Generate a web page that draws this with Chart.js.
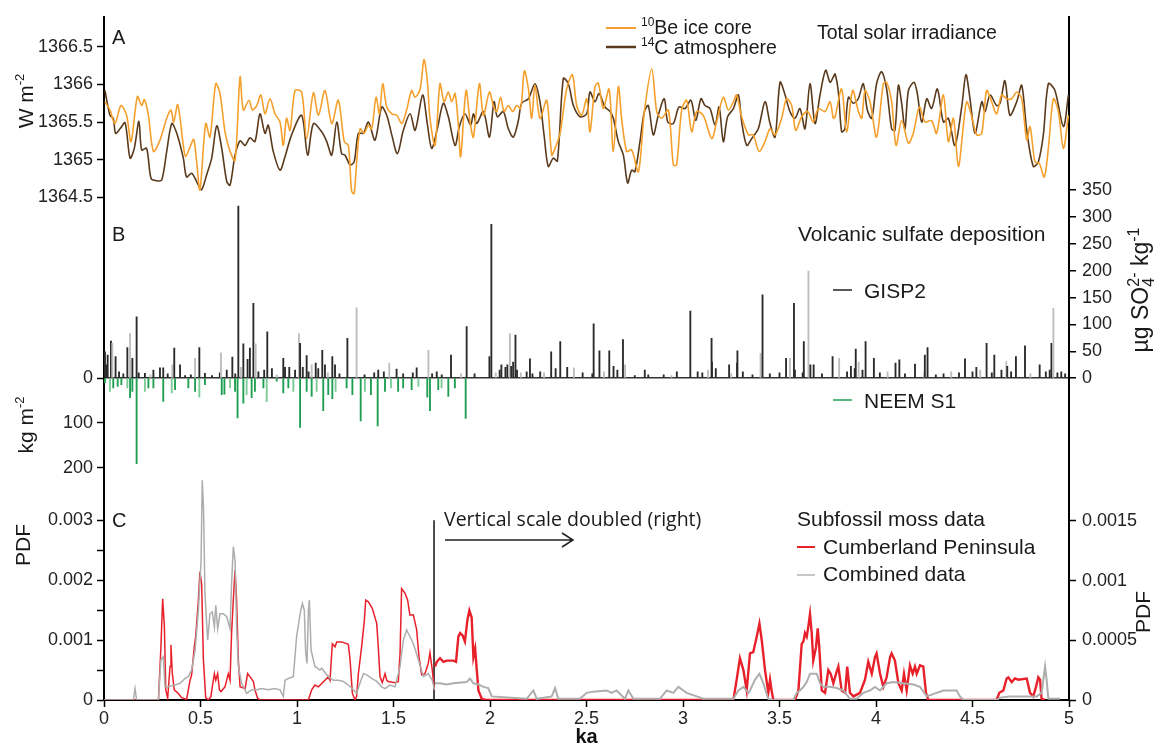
<!DOCTYPE html>
<html>
<head>
<meta charset="utf-8">
<script src="https://cdn.jsdelivr.net/npm/chart.js@4.4.1/dist/chart.umd.min.js"></script>
<style>
  html, body { margin: 0; padding: 0; background: #fff; }
  #wrap { width: 1163px; height: 749px; position: relative; }
</style>
</head>
<body>
<div id="wrap"><canvas id="holoceneChart"></canvas></div>
<script>
// ages in ka
const xTicks = [0, 0.5, 1, 1.5, 2, 2.5, 3, 3.5, 4, 4.5, 5];
const tsiTicks = [1364.5, 1365, 1365.5, 1366, 1366.5];
const neemTicks = [0, 100, 200];
const gispTicks = [0, 50, 100, 150, 200, 250, 300, 350];
const pdfTicks = [0, 0.0005, 0.001, 0.0015, 0.002, 0.0025, 0.003];
const pdfRightTicks = [0, 0.0005, 0.001, 0.0015];

// A - total solar irradiance (W m-2)
const be10 = [
  [0.005,1365.77],[0.031,1365.66],[0.057,1365.48],[0.088,1365.72],[0.117,1365.59],[0.140,1365.24],[0.173,1365.84],[0.195,1365.72],
  [0.209,1365.80],[0.230,1365.59],[0.256,1365.11],[0.290,1365.26],[0.325,1365.55],[0.347,1365.66],[0.361,1365.50],[0.382,1365.73],
  [0.411,1365.19],[0.423,1365.04],[0.446,1365.17],[0.465,1365.27],[0.480,1364.97],[0.497,1364.60],[0.527,1365.48],[0.549,1365.30],
  [0.579,1366.01],[0.601,1365.88],[0.627,1365.37],[0.653,1365.11],[0.679,1364.99],[0.705,1366.10],[0.722,1365.66],[0.751,1365.79],
  [0.769,1365.66],[0.791,1365.72],[0.813,1365.86],[0.834,1365.61],[0.860,1365.81],[0.886,1365.61],[0.912,1365.50],[0.929,1365.19],
  [0.946,1365.55],[0.964,1365.39],[0.990,1365.92],[1.024,1365.90],[1.050,1365.28],[1.085,1365.89],[1.111,1365.59],[1.145,1365.92],
  [1.180,1365.48],[1.214,1365.79],[1.245,1365.24],[1.266,1365.19],[1.283,1364.58],[1.296,1364.55],[1.309,1364.97],[1.327,1365.41],
  [1.347,1365.35],[1.370,1365.46],[1.387,1365.41],[1.410,1365.83],[1.427,1365.61],[1.444,1366.01],[1.465,1365.70],[1.491,1365.61],
  [1.517,1365.59],[1.543,1365.48],[1.568,1365.66],[1.594,1365.92],[1.612,1365.83],[1.638,1365.94],[1.658,1366.33],[1.676,1366.03],
  [1.689,1365.55],[1.715,1365.19],[1.741,1366.01],[1.762,1365.77],[1.784,1365.90],[1.802,1365.77],[1.819,1365.88],[1.836,1365.46],
  [1.848,1365.04],[1.876,1365.92],[1.897,1365.50],[1.914,1365.30],[1.945,1366.01],[1.966,1365.59],[1.997,1365.90],[2.017,1365.72],
  [2.035,1365.64],[2.055,1365.83],[2.073,1365.64],[2.095,1365.72],[2.118,1365.64],[2.138,1365.72],[2.159,1365.68],[2.178,1366.18],
  [2.199,1365.94],[2.216,1365.55],[2.233,1365.99],[2.259,1365.55],[2.294,1365.79],[2.320,1365.06],[2.337,1365.15],[2.363,1365.35],
  [2.397,1365.94],[2.427,1366.13],[2.449,1365.72],[2.475,1365.59],[2.501,1365.81],[2.518,1365.37],[2.544,1365.97],[2.561,1366.02],
  [2.587,1365.68],[2.617,1365.94],[2.639,1365.11],[2.665,1365.97],[2.682,1365.55],[2.708,1365.11],[2.734,1365.13],[2.769,1364.84],
  [2.800,1365.64],[2.838,1366.21],[2.864,1365.64],[2.889,1365.55],[2.924,1365.66],[2.950,1364.93],[2.967,1364.93],[2.993,1365.66],
  [3.019,1365.79],[3.045,1365.37],[3.071,1365.64],[3.105,1365.59],[3.149,1365.28],[3.174,1365.50],[3.209,1365.83],[3.235,1365.66],
  [3.261,1365.77],[3.278,1365.86],[3.304,1365.57],[3.339,1365.33],[3.364,1365.33],[3.394,1365.11],[3.425,1365.24],[3.451,1365.41],
  [3.477,1365.33],[3.511,1365.55],[3.537,1365.81],[3.563,1365.72],[3.584,1365.39],[3.615,1365.57],[3.646,1365.64],[3.675,1365.50],
  [3.701,1365.68],[3.736,1365.64],[3.762,1365.77],[3.779,1365.55],[3.788,1365.57],[3.822,1365.94],[3.848,1365.37],[3.879,1365.92],
  [3.909,1365.64],[3.926,1365.55],[3.943,1365.92],[3.969,1365.77],[4.003,1365.30],[4.038,1366.01],[4.055,1366.03],[4.081,1365.77],
  [4.104,1365.19],[4.133,1365.52],[4.168,1365.22],[4.193,1365.35],[4.225,1365.70],[4.254,1365.50],[4.288,1365.52],[4.314,1365.35],
  [4.349,1365.86],[4.375,1365.24],[4.401,1365.55],[4.427,1364.91],[4.453,1365.46],[4.470,1365.77],[4.496,1365.57],[4.522,1365.33],
  [4.548,1365.35],[4.573,1365.92],[4.599,1365.77],[4.625,1365.61],[4.651,1365.86],[4.677,1365.81],[4.703,1365.81],[4.729,1365.90],
  [4.755,1365.81],[4.781,1365.26],[4.798,1365.44],[4.824,1364.97],[4.846,1364.95],[4.872,1364.77],[4.893,1365.15],[4.919,1365.81],
  [4.945,1365.64],[4.971,1365.15],[4.997,1365.59]
];
const c14 = [
  [0.005,1365.92],[0.031,1365.59],[0.048,1365.55],[0.060,1365.35],[0.083,1365.41],[0.109,1365.49],[0.135,1365.02],[0.157,1365.15],
  [0.181,1365.51],[0.195,1365.13],[0.221,1365.15],[0.244,1364.75],[0.273,1364.72],[0.299,1364.73],[0.325,1365.11],[0.351,1365.48],
  [0.377,1365.35],[0.411,1365.02],[0.428,1364.77],[0.454,1364.82],[0.472,1364.75],[0.489,1364.66],[0.506,1364.60],[0.532,1364.80],
  [0.558,1365.02],[0.584,1365.45],[0.610,1365.15],[0.636,1364.71],[0.653,1364.66],[0.679,1365.06],[0.705,1365.25],[0.731,1365.19],
  [0.756,1365.29],[0.782,1365.24],[0.808,1365.61],[0.834,1365.35],[0.851,1365.46],[0.877,1365.11],[0.912,1364.86],[0.938,1365.04],
  [0.972,1365.33],[1.024,1365.59],[1.055,1365.06],[1.085,1365.48],[1.128,1365.37],[1.154,1365.24],[1.180,1365.06],[1.206,1365.50],
  [1.231,1365.08],[1.249,1365.06],[1.275,1364.93],[1.296,1364.97],[1.318,1365.35],[1.344,1365.35],[1.370,1365.50],[1.404,1365.26],
  [1.439,1365.70],[1.465,1365.59],[1.491,1365.33],[1.520,1365.08],[1.551,1365.39],[1.586,1365.61],[1.612,1365.39],[1.651,1365.86],
  [1.675,1365.48],[1.698,1365.15],[1.727,1365.41],[1.758,1365.75],[1.784,1365.57],[1.819,1365.19],[1.841,1365.44],[1.870,1365.61],
  [1.900,1365.46],[1.914,1365.61],[1.931,1365.48],[1.966,1365.64],[1.997,1365.30],[2.021,1365.77],[2.038,1365.57],[2.069,1365.64],
  [2.095,1365.41],[2.121,1365.30],[2.147,1365.52],[2.164,1365.75],[2.199,1365.81],[2.233,1366.01],[2.259,1365.77],[2.280,1365.33],
  [2.302,1364.91],[2.328,1365.02],[2.349,1364.98],[2.380,1366.08],[2.406,1366.01],[2.432,1365.72],[2.467,1365.57],[2.501,1365.61],
  [2.518,1365.90],[2.544,1365.77],[2.565,1365.88],[2.596,1365.70],[2.622,1365.64],[2.639,1365.55],[2.665,1365.24],[2.691,1365.06],
  [2.713,1364.69],[2.734,1364.86],[2.751,1364.84],[2.777,1365.24],[2.800,1365.64],[2.820,1365.72],[2.846,1365.33],[2.872,1365.59],
  [2.903,1365.81],[2.921,1365.50],[2.950,1365.48],[2.979,1365.70],[3.010,1365.68],[3.041,1365.79],[3.066,1365.52],[3.093,1365.81],
  [3.114,1365.72],[3.140,1365.68],[3.166,1365.46],[3.187,1365.70],[3.209,1365.24],[3.231,1365.57],[3.261,1365.68],[3.287,1365.86],
  [3.304,1365.50],[3.330,1365.19],[3.356,1365.28],[3.390,1365.41],[3.425,1365.77],[3.451,1365.48],[3.477,1365.30],[3.503,1366.03],
  [3.529,1365.86],[3.554,1365.64],[3.580,1365.55],[3.606,1365.68],[3.632,1365.41],[3.658,1366.01],[3.684,1365.48],[3.710,1365.86],
  [3.739,1366.19],[3.762,1366.03],[3.779,1366.10],[3.788,1366.14],[3.805,1365.90],[3.822,1365.37],[3.839,1365.41],[3.857,1365.83],
  [3.883,1365.75],[3.908,1365.81],[3.934,1366.01],[3.955,1365.66],[3.978,1365.55],[4.003,1366.01],[4.029,1366.17],[4.055,1365.94],
  [4.081,1365.41],[4.098,1365.39],[4.116,1365.99],[4.133,1365.75],[4.150,1365.41],[4.168,1365.92],[4.197,1366.03],[4.214,1365.88],
  [4.237,1365.50],[4.263,1365.81],[4.288,1365.68],[4.318,1365.94],[4.349,1365.50],[4.375,1365.55],[4.409,1365.19],[4.444,1365.70],
  [4.466,1366.13],[4.487,1365.81],[4.513,1365.35],[4.548,1365.77],[4.565,1365.64],[4.591,1365.86],[4.625,1365.72],[4.643,1365.75],
  [4.668,1366.05],[4.694,1365.59],[4.729,1365.77],[4.755,1365.99],[4.781,1365.39],[4.815,1364.91],[4.841,1364.97],[4.867,1365.33],
  [4.893,1366.01],[4.927,1365.92],[4.971,1365.44],[4.997,1365.86]
];

// B - volcanic sulfate: GISP2 (µg SO4 kg-1, up) and NEEM S1 (down)
const gisp2 = [
  [0.005,49],[0.012,25],[0.019,43],[0.036,69],[0.043,65],[0.060,40],[0.078,12],[0.100,8],[0.121,57],[0.135,83],[0.147,37],[0.169,114],
  [0.180,10],[0.212,9],[0.240,6],[0.256,15],[0.290,19],[0.307,19],[0.330,8],[0.354,25],[0.364,56],[0.394,25],[0.420,5],[0.450,6],
  [0.472,37],[0.494,57],[0.523,9],[0.560,5],[0.600,10],[0.606,47],[0.636,15],[0.665,39],[0.680,8],[0.696,320],[0.710,20],[0.722,64],
  [0.744,35],[0.756,56],[0.774,139],[0.786,64],[0.800,12],[0.830,15],[0.846,86],[0.870,18],[0.895,6],[0.929,37],[0.938,20],[0.960,20],
  [0.990,15],[1.010,83],[1.016,65],[1.030,20],[1.050,42],[1.060,12],[1.076,25],[1.097,28],[1.110,18],[1.131,52],[1.145,25],[1.160,10],
  [1.183,40],[1.197,25],[1.220,8],[1.261,74],[1.309,131],[1.350,6],[1.400,10],[1.421,15],[1.450,12],[1.478,28],[1.516,17],[1.550,8],
  [1.600,10],[1.620,19],[1.681,52],[1.700,8],[1.724,12],[1.750,6],[1.798,43],[1.850,8],[1.879,96],[1.920,8],
  [1.997,40],[2.007,286],[2.030,10],[2.050,15],[2.059,25],[2.080,20],[2.090,25],[2.103,83],[2.110,22],[2.120,30],[2.132,80],[2.140,15],
  [2.160,10],[2.190,12],[2.207,36],[2.220,8],[2.260,12],[2.280,10],[2.317,49],[2.340,18],[2.364,68],[2.400,20],[2.435,19],[2.480,10],
  [2.530,8],[2.537,101],[2.567,51],[2.590,12],[2.618,51],[2.640,22],[2.660,15],[2.689,72],[2.700,25],[2.750,5],[2.802,15],[2.820,6],
  [2.900,6],[2.940,5],[2.968,12],[3.038,125],[3.076,12],[3.100,10],[3.130,15],[3.148,74],[3.150,30],[3.170,18],[3.239,25],[3.250,8],
  [3.280,28],[3.282,51],[3.310,12],[3.360,6],[3.402,46],[3.412,155],[3.450,8],[3.500,10],[3.534,37],[3.554,37],[3.575,139],[3.580,15],
  [3.620,10],[3.626,68],[3.650,199],[3.660,25],[3.677,25],[3.720,8],[3.775,40],[3.809,37],[3.850,12],[3.870,22],[3.890,18],[3.895,54],
  [3.910,30],[3.930,15],[3.946,68],[3.989,37],[4.020,10],[4.060,12],[4.101,28],[4.121,34],[4.150,8],[4.202,26],[4.250,10],[4.253,43],
  [4.267,57],[4.310,6],[4.350,8],[4.390,12],[4.430,10],[4.461,36],[4.500,12],[4.520,20],[4.540,15],[4.573,65],[4.600,10],[4.613,43],
  [4.650,15],[4.675,31],[4.680,22],[4.700,12],[4.725,40],[4.772,60],[4.800,8],[4.848,25],[4.880,12],[4.900,15],[4.909,65],[4.919,130],
  [4.940,10],[4.960,12],[4.980,8]
];
const neemS1 = [
  [0.005,11],[0.031,30],[0.048,22],[0.071,19],[0.090,15],[0.121,22],[0.135,44],[0.147,30],[0.169,191],[0.212,30],[0.230,22],[0.256,22],
  [0.307,52],[0.351,33],[0.368,26],[0.437,22],[0.472,30],[0.494,43],[0.523,15],[0.610,37],[0.624,36],[0.653,22],[0.679,30],[0.692,89],
  [0.722,56],[0.739,37],[0.765,44],[0.782,30],[0.826,22],[0.843,53],[0.895,7],[0.929,33],[0.955,22],[0.981,30],[1.016,110],[1.050,30],
  [1.076,41],[1.102,30],[1.136,73],[1.162,37],[1.183,46],[1.200,30],[1.257,22],[1.287,37],[1.330,96],[1.352,30],[1.383,37],[1.418,107],
  [1.456,30],[1.487,22],[1.524,30],[1.550,22],[1.594,26],[1.629,19],[1.675,43],[1.689,73],[1.732,26],[1.749,22],[1.784,41],[1.818,22],
  [1.874,90]
];

// C - subfossil moss PDFs; left of the break on the left axis, right of it on the doubled (right) axis
const cumberlandLeft = [
  [0,0],[0.282,0],[0.295,0.89e-3],[0.304,1.69e-3],[0.313,1.22e-3],[0.320,0.17e-3],[0.330,0.03e-3],[0.342,0.56e-3],[0.347,0.92e-3],
  [0.354,0.44e-3],[0.364,0.17e-3],[0.385,0.11e-3],[0.402,0.04e-3],[0.428,0.01e-3],[0.446,0.33e-3],[0.454,0.42e-3],[0.468,0.89e-3],
  [0.475,1.06e-3],[0.489,1.67e-3],[0.497,2.14e-3],[0.506,1.94e-3],[0.515,0.67e-3],[0.527,0.04e-3],[0.541,0],[0.554,0.06e-3],
  [0.561,0.22e-3],[0.572,0.44e-3],[0.579,0.33e-3],[0.589,0.44e-3],[0.598,0.17e-3],[0.606,0.14e-3],[0.627,0.22e-3],[0.644,0.44e-3],
  [0.653,0.33e-3],[0.661,1.11e-3],[0.670,1.67e-3],[0.679,2.17e-3],[0.687,1.67e-3],[0.696,0.67e-3],[0.705,0.22e-3],[0.731,0.19e-3],
  [0.744,0.44e-3],[0.756,0.39e-3],[0.774,0.31e-3],[0.782,0.17e-3],[0.796,0.03e-3],[0.808,0],[1.059,0],[1.076,0.17e-3],[1.093,0.25e-3],
  [1.111,0.22e-3],[1.145,0.33e-3],[1.162,0.39e-3],[1.171,0.33e-3],[1.183,0.94e-3],[1.197,0.89e-3],[1.206,0.97e-3],[1.231,0.97e-3],
  [1.266,0.93e-3],[1.275,0.67e-3],[1.287,0.11e-3],[1.301,0],[1.309,0.06e-3],[1.318,0.44e-3],[1.335,0.89e-3],[1.349,1.33e-3],
  [1.356,1.67e-3],[1.370,1.64e-3],[1.390,1.53e-3],[1.413,1.28e-3],[1.421,0.89e-3],[1.430,0.39e-3],[1.442,0.29e-3],[1.456,0.44e-3],
  [1.465,0.33e-3],[1.473,0.31e-3],[1.508,0.29e-3],[1.525,0.31e-3],[1.534,0.78e-3],[1.542,1.86e-3],[1.560,1.78e-3],[1.573,1.67e-3],
  [1.585,1.42e-3],[1.603,1.42e-3],[1.620,1.17e-3],[1.632,0.72e-3],[1.646,0.42e-3],[1.663,0.44e-3],[1.680,0.61e-3],[1.689,0.79e-3],
  [1.701,0.50e-3],[1.712,0.17e-3]
];
const combinedLeft = [
  [0,0],[0.152,0],[0.161,0.19e-3],[0.169,0],[0.282,0],[0.295,0.67e-3],[0.307,0.72e-3],[0.316,0.22e-3],[0.333,0.22e-3],[0.368,0.25e-3],
  [0.394,0.28e-3],[0.420,0.36e-3],[0.437,0.39e-3],[0.454,0.50e-3],[0.472,0.83e-3],[0.489,1.50e-3],[0.503,2.33e-3],[0.509,3.67e-3],
  [0.516,3.17e-3],[0.523,1.78e-3],[0.537,1.00e-3],[0.549,1.44e-3],[0.561,1.47e-3],[0.572,1.22e-3],[0.579,1.58e-3],[0.589,1.19e-3],
  [0.601,1.44e-3],[0.618,1.44e-3],[0.636,1.39e-3],[0.653,1.19e-3],[0.661,1.94e-3],[0.670,2.56e-3],[0.679,2.33e-3],[0.687,1.22e-3],
  [0.696,0.56e-3],[0.713,0.28e-3],[0.739,0.11e-3],[0.765,0.17e-3],[0.791,0.17e-3],[0.817,0.19e-3],[0.851,0.17e-3],[0.886,0.19e-3],
  [0.912,0.17e-3],[0.929,0.06e-3],[0.938,0.33e-3],[0.955,0.36e-3],[0.981,0.39e-3],[0.998,1.06e-3],[1.016,1.44e-3],[1.028,1.61e-3],
  [1.038,1.50e-3],[1.045,0.78e-3],[1.052,0.61e-3],[1.059,1.50e-3],[1.064,1.67e-3],[1.073,0.83e-3],[1.093,0.56e-3],[1.119,0.50e-3],
  [1.128,0.53e-3],[1.162,0.39e-3],[1.188,0.33e-3],[1.214,0.33e-3],[1.240,0.31e-3],[1.266,0.25e-3],[1.292,0.17e-3],[1.309,0.11e-3],
  [1.326,0.28e-3],[1.344,0.44e-3],[1.361,0.42e-3],[1.387,0.36e-3],[1.413,0.31e-3],[1.439,0.22e-3],[1.456,0.19e-3],[1.482,0.25e-3],
  [1.508,0.22e-3],[1.534,0.56e-3],[1.551,1.00e-3],[1.568,1.17e-3],[1.585,1.06e-3],[1.603,0.94e-3],[1.629,0.67e-3],[1.655,0.39e-3],
  [1.680,0.44e-3],[1.701,0.33e-3],[1.712,0.17e-3]
];
const cumberlandRight = [
  [1.715,0.28e-3],[1.724,0.32e-3],[1.741,0.35e-3],[1.759,0.32e-3],[1.775,0.33e-3],[1.810,0.33e-3],[1.824,0.32e-3],[1.836,0.53e-3],
  [1.845,0.56e-3],[1.858,0.54e-3],[1.870,0.49e-3],[1.883,0.67e-3],[1.893,0.75e-3],[1.905,0.69e-3],[1.914,0.36e-3],[1.923,0.43e-3],
  [1.931,0.26e-3],[1.940,0.08e-3],[1.957,0.01e-3],[1.983,0],[3.261,0],[3.278,0.17e-3],[3.295,0.35e-3],[3.313,0.25e-3],[3.330,0.08e-3],
  [3.347,0.39e-3],[3.364,0.40e-3],[3.382,0.53e-3],[3.396,0.64e-3],[3.408,0.50e-3],[3.425,0.25e-3],[3.442,0.06e-3],[3.451,0.17e-3],
  [3.459,0.08e-3],[3.468,0],[3.580,0],[3.598,0.08e-3],[3.615,0.47e-3],[3.624,0.49e-3],[3.632,0.56e-3],[3.641,0.53e-3],[3.649,0.61e-3],
  [3.658,0.72e-3],[3.667,0.56e-3],[3.675,0.33e-3],[3.689,0.44e-3],[3.698,0.60e-3],[3.706,0.44e-3],[3.719,0.08e-3],[3.736,0.06e-3],
  [3.753,0.25e-3],[3.765,0.22e-3],[3.779,0.14e-3],[3.793,0.22e-3],[3.805,0.28e-3],[3.822,0.08e-3],[3.840,0.06e-3],[3.851,0.28e-3],
  [3.865,0.06e-3],[3.883,0.03e-3],[3.917,0.06e-3],[3.943,0.17e-3],[3.960,0.32e-3],[3.978,0.22e-3],[3.995,0.36e-3],[4.003,0.39e-3],
  [4.021,0.22e-3],[4.038,0.11e-3],[4.055,0.19e-3],[4.073,0.36e-3],[4.081,0.39e-3],[4.098,0.33e-3],[4.116,0.14e-3],[4.133,0.08e-3],
  [4.145,0.22e-3],[4.159,0.08e-3],[4.176,0.29e-3],[4.190,0.22e-3],[4.202,0.28e-3],[4.211,0.22e-3],[4.228,0.29e-3],[4.245,0.28e-3],
  [4.259,0.06e-3],[4.271,0],[4.625,0],[4.639,0.06e-3],[4.660,0.08e-3],[4.677,0.18e-3],[4.686,0.19e-3],[4.703,0.15e-3],[4.720,0.18e-3],
  [4.737,0.17e-3],[4.781,0.18e-3],[4.798,0.06e-3],[4.815,0.03e-3],[4.829,0.11e-3],[4.841,0.19e-3],[4.850,0.17e-3],[4.858,0.01e-3],
  [4.876,0]
];
const combinedRight = [
  [1.715,0.14e-3],[1.741,0.14e-3],[1.775,0.13e-3],[1.810,0.14e-3],[1.879,0.15e-3],[1.896,0.18e-3],[1.914,0.14e-3],[1.940,0.13e-3],
  [1.966,0.11e-3],[1.991,0.10e-3],[2.009,0.03e-3],[2.190,0.01e-3],[2.225,0.08e-3],[2.242,0.01e-3],[2.320,0.03e-3],[2.337,0.10e-3],
  [2.354,0.01e-3],[2.466,0.01e-3],[2.501,0.06e-3],[2.535,0.07e-3],[2.604,0.08e-3],[2.630,0.06e-3],[2.656,0.08e-3],[2.699,0.01e-3],
  [2.717,0.08e-3],[2.743,0.01e-3],[2.881,0.01e-3],[2.915,0.08e-3],[2.950,0.06e-3],[2.976,0.11e-3],[3.002,0.08e-3],[3.019,0.06e-3],
  [3.071,0.03e-3],[3.105,0.01e-3],[3.261,0.01e-3],[3.287,0.08e-3],[3.313,0.11e-3],[3.339,0.06e-3],[3.347,0.08e-3],[3.373,0.17e-3],
  [3.396,0.22e-3],[3.416,0.14e-3],[3.442,0.01e-3],[3.468,0],[3.572,0],[3.589,0.06e-3],[3.606,0.08e-3],[3.624,0.11e-3],[3.641,0.15e-3],
  [3.658,0.22e-3],[3.693,0.22e-3],[3.710,0.14e-3],[3.727,0.11e-3],[3.762,0.11e-3],[3.796,0.10e-3],[3.831,0.08e-3],[3.865,0.01e-3],
  [3.900,0.01e-3],[3.934,0.06e-3],[3.969,0.08e-3],[3.995,0.11e-3],[4.021,0.08e-3],[4.055,0.14e-3],[4.090,0.15e-3],[4.142,0.14e-3],
  [4.194,0.13e-3],[4.228,0.11e-3],[4.263,0.03e-3],[4.314,0.06e-3],[4.349,0.08e-3],[4.418,0.08e-3],[4.435,0.03e-3],[4.453,0],[4.625,0],
  [4.643,0.02e-3],[4.694,0.03e-3],[4.729,0.03e-3],[4.833,0.03e-3],[4.858,0.06e-3],[4.876,0.28e-3],[4.884,0.17e-3],[4.893,0.01e-3],
  [4.953,0.01e-3]
];
const scaleBreakAge = 1.71;
const scaleBreakTop = 0.003;

const FONT = "'Liberation Sans', Arial, sans-serif";
Chart.defaults.font.family = FONT;
Chart.defaults.font.size = 18;
Chart.defaults.color = '#222';

const pts = arr => arr.map(([x, y]) => ({ x, y }));
const fixWidth = w => s => { s.width = w; };
const useTicks = list => s => { s.ticks = list.map(v => ({ value: v })); };
const tickGrid = { drawOnChartArea: false, tickLength: 7, color: '#000', tickWidth: 1.5, offset: false };
const axisBorder = { color: '#000', width: 2 };

// text with super/subscripts; parts = [text, 'sup'|'sub', keepX]
function drawRich(ctx, parts, x, y, size, opt = {}) {
  const small = Math.round(size * (opt.small || 0.62));
  const fam = opt.family || FONT;
  const fontFor = m => (m ? small : size) + 'px ' + fam;
  let total = 0;
  const widths = parts.map(([t, m, keep]) => {
    ctx.font = fontFor(m);
    const w = keep ? 0 : ctx.measureText(t).width;
    total += w;
    return w;
  });
  ctx.save();
  ctx.translate(x, y);
  if (opt.rotate) ctx.rotate(opt.rotate);
  ctx.fillStyle = opt.color || '#1a1a1a';
  ctx.textAlign = 'left';
  ctx.textBaseline = 'alphabetic';
  let cx = opt.align === 'center' ? -total / 2 : 0;
  const base = size * 0.36;
  parts.forEach(([t, m], i) => {
    ctx.font = fontFor(m);
    const dy = m === 'sup' ? -size * 0.42 : m === 'sub' ? size * 0.25 : 0;
    ctx.fillText(t, cx, base + dy);
    cx += widths[i];
  });
  ctx.restore();
}

function swatch(ctx, x1, x2, y, color, w) {
  ctx.save();
  ctx.strokeStyle = color;
  ctx.lineWidth = w || 2;
  ctx.beginPath();
  ctx.moveTo(x1, y);
  ctx.lineTo(x2, y);
  ctx.stroke();
  ctx.restore();
}

const annotations = {
  id: 'annotations',
  afterDraw(chart) {
    const ctx = chart.ctx;
    // panel letters
    drawRich(ctx, [['A']], 112, 37, 20);
    drawRich(ctx, [['B']], 112, 234, 20);
    drawRich(ctx, [['C']], 112, 520, 20);

    // A legend
    swatch(ctx, 606, 636, 28, '#F5A02C', 2);
    drawRich(ctx, [['10', 'sup'], ['Be ice core']], 641, 27, 19.5);
    swatch(ctx, 606, 636, 47, '#5A3A1C', 2.5);
    drawRich(ctx, [['14', 'sup'], ['C atmosphere']], 641, 47, 19.5);
    drawRich(ctx, [['Total solar irradiance']], 817, 32, 19.5);

    // B legend
    drawRich(ctx, [['Volcanic sulfate deposition']], 798, 233, 21);
    swatch(ctx, 833, 852, 290, '#222', 1.5);
    drawRich(ctx, [['GISP2']], 864, 290, 21);
    swatch(ctx, 833, 852, 400, '#1E9E50', 1.5);
    drawRich(ctx, [['NEEM S1']], 864, 400, 21);

    // C legend and scale-break note
    drawRich(ctx, [['Vertical scale doubled (right)']], 444, 519, 19.5, { family: "'Open Sans', 'Noto Sans', sans-serif" });
    ctx.save();
    ctx.strokeStyle = '#222';
    ctx.lineWidth = 1.5;
    ctx.beginPath();
    ctx.moveTo(445, 540); ctx.lineTo(573, 540);
    ctx.moveTo(562, 533); ctx.lineTo(573, 540); ctx.lineTo(562, 547);
    ctx.stroke();
    ctx.restore();
    drawRich(ctx, [['Subfossil moss data']], 797, 518, 21);
    swatch(ctx, 797, 815, 547, '#E8202A', 2);
    drawRich(ctx, [['Cumberland Peninsula']], 823, 546, 21);
    swatch(ctx, 797, 815, 575, '#B5B5B5', 1.5);
    drawRich(ctx, [['Combined data']], 823, 573, 21);

    // axis titles
    const up = -Math.PI / 2;
    drawRich(ctx, [['W m'], ['-2', 'sup']], 25, 101, 21, { rotate: up, align: 'center' });
    drawRich(ctx, [['kg m'], ['-2', 'sup']], 25, 425, 21, { rotate: up, align: 'center' });
    drawRich(ctx, [['PDF']], 22, 545, 21, { rotate: up, align: 'center' });
    drawRich(ctx, [['\u00B5g SO'], ['4', 'sub', true], ['2-', 'sup'], [' kg'], ['-1', 'sup']], 1140, 290, 23,
      { rotate: up, align: 'center', small: 0.68 });
    drawRich(ctx, [['PDF']], 1142, 612, 21, { rotate: up, align: 'center' });
  }
};

const pdfLabel = v => (Math.abs(v * 1000 - Math.round(v * 1000)) < 1e-9 ? String(+v.toFixed(4)) : '');
const yTickOpts = cb => ({ padding: 4, autoSkip: false, callback: cb });

new Chart(document.getElementById('holoceneChart'), {
  type: 'line',
  data: {
    datasets: [
      { label: '10Be ice core', data: pts(be10), yAxisID: 'yA', borderColor: '#F5A02C', borderWidth: 1.6, pointRadius: 0, tension: 0.3 },
      { label: '14C atmosphere', data: pts(c14), yAxisID: 'yA', borderColor: '#5A3A1C', borderWidth: 1.6, pointRadius: 0, tension: 0.3 },
      { type: 'bar', label: 'GISP2', data: pts(gisp2), yAxisID: 'yBr', grouped: false, barThickness: 1.2,
        backgroundColor: ctx => (ctx.dataIndex % 5 === 4 ? '#bdbdbd' : '#2a2a2a') },
      { type: 'bar', label: 'NEEM S1', data: pts(neemS1), yAxisID: 'yB', grouped: false, barThickness: 1.2,
        backgroundColor: ctx => (ctx.dataIndex % 4 === 1 ? '#7ccb97' : '#1E9E50') },
      { label: 'Combined data', data: pts(combinedLeft), yAxisID: 'yC', borderColor: '#ADADAD', borderWidth: 1.5, pointRadius: 0 },
      { label: 'Cumberland Peninsula', data: pts(cumberlandLeft), yAxisID: 'yC', borderColor: '#E8202A', borderWidth: 1.5, pointRadius: 0 },
      { label: 'Combined data (right)', data: pts(combinedRight), yAxisID: 'yCr', borderColor: '#ADADAD', borderWidth: 2, pointRadius: 0 },
      { label: 'Cumberland Peninsula (right)', data: pts(cumberlandRight), yAxisID: 'yCr', borderColor: '#E8202A', borderWidth: 2.4, pointRadius: 0 },
      { label: 'scale break', data: [{ x: scaleBreakAge, y: 0 }, { x: scaleBreakAge, y: scaleBreakTop }], yAxisID: 'yC',
        borderColor: '#111', borderWidth: 1.5, pointRadius: 0 }
    ]
  },
  plugins: [annotations],
  options: {
    responsive: true,
    maintainAspectRatio: false,
    animation: false,
    layout: { padding: { top: 14, left: 0, right: 0, bottom: 0 } },
    plugins: { legend: { display: false }, tooltip: { enabled: false } },
    scales: {
      x: {
        type: 'linear', position: 'bottom', min: 0, max: 5, offset: false,
        afterBuildTicks: useTicks(xTicks),
        afterFit: s => { s.height = 49; },
        ticks: { autoSkip: false, maxRotation: 0, padding: 1, callback: v => String(v) },
        grid: tickGrid, border: axisBorder,
        title: { display: true, text: 'ka', font: { size: 20, weight: 'bold' }, padding: { top: 0, bottom: 0 }, color: '#111' }
      },
      yA: {
        type: 'linear', position: 'left', stack: 'L', stackWeight: 182.7, weight: 3,
        min: 1364.48, max: 1366.9,
        afterBuildTicks: useTicks(tsiTicks), afterFit: fixWidth(104),
        ticks: yTickOpts(v => String(v)),
        grid: tickGrid, border: axisBorder
      },
      yB: {
        type: 'linear', position: 'left', stack: 'L', stackWeight: 270, weight: 2,
        reverse: true, min: -400, max: 200,
        afterBuildTicks: useTicks(neemTicks), afterFit: fixWidth(104),
        ticks: yTickOpts(v => String(v)),
        grid: tickGrid, border: axisBorder
      },
      yC: {
        type: 'linear', position: 'left', stack: 'L', stackWeight: 233.3, weight: 1,
        min: 0, max: 0.00388,
        afterBuildTicks: useTicks(pdfTicks), afterFit: fixWidth(104),
        ticks: yTickOpts(pdfLabel),
        grid: tickGrid, border: axisBorder
      },
      yAr: {
        type: 'linear', position: 'right', stack: 'R', stackWeight: 171, weight: 1,
        min: 0, max: 1, afterFit: fixWidth(94),
        ticks: { display: false }, grid: { display: false }, border: axisBorder
      },
      yBr: {
        type: 'linear', position: 'right', stack: 'R', stackWeight: 282, weight: 2,
        min: -166.7, max: 355.6,
        afterBuildTicks: useTicks(gispTicks), afterFit: fixWidth(94),
        ticks: { padding: 6, autoSkip: false, callback: v => String(v) },
        grid: {
          drawOnChartArea: true, tickLength: 7, tickWidth: 1.5, tickColor: '#000', lineWidth: 1.5,
          color: c => (c.tick && c.tick.value === 0 ? '#333' : 'rgba(0,0,0,0)')
        },
        border: axisBorder
      },
      yCr: {
        type: 'linear', position: 'right', stack: 'R', stackWeight: 233.3, weight: 3,
        min: 0, max: 0.001944,
        afterBuildTicks: useTicks(pdfRightTicks), afterFit: fixWidth(94),
        ticks: { padding: 6, autoSkip: false, callback: v => String(+v.toFixed(4)) },
        grid: tickGrid, border: axisBorder
      }
    }
  }
});
</script>
</body>
</html>
